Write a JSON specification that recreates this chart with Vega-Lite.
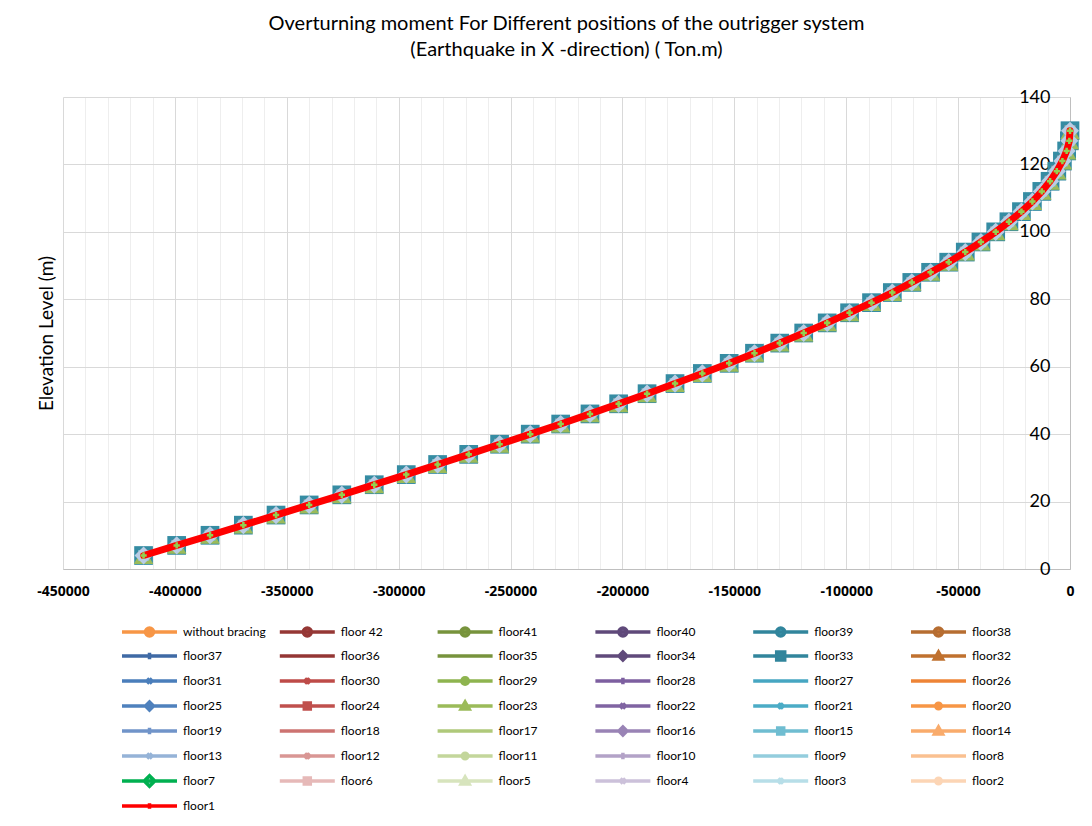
{
  "$schema": "https://vega.github.io/schema/vega-lite/v6.json",
  "width": 1007,
  "height": 472,
  "autosize": {"type": "none"},
  "padding": {"left": 63, "top": 97, "right": 22, "bottom": 257},
  "background": "white",
  "config": {"font": "Lato", "view": {"stroke": null}, "point": {"opacity": 1}, "line": {"opacity": 1}},
  "title": {
    "text": ["Overturning moment For Different positions of the outrigger system", "(Earthquake in X -direction) ( Ton.m)"],
    "font": "Lato", "fontSize": 20, "fontWeight": "normal", "color": "#000000",
    "lineHeight": 26, "anchor": "middle", "frame": "group", "offset": 28
  },
  "data": {
    "values": [
      {"e": 4, "m": -414000}, {"e": 7, "m": -399200}, {"e": 10, "m": -384300}, {"e": 13, "m": -369400},
      {"e": 16, "m": -354800}, {"e": 19, "m": -340000}, {"e": 22, "m": -325400}, {"e": 25, "m": -310900},
      {"e": 28, "m": -296600}, {"e": 31, "m": -282600}, {"e": 34, "m": -268700}, {"e": 37, "m": -254900},
      {"e": 40, "m": -241200}, {"e": 43, "m": -227600}, {"e": 46, "m": -214500}, {"e": 49, "m": -201700},
      {"e": 52, "m": -189000}, {"e": 55, "m": -176500}, {"e": 58, "m": -164300}, {"e": 61, "m": -152300},
      {"e": 64, "m": -141000}, {"e": 67, "m": -129700}, {"e": 70, "m": -119000}, {"e": 73, "m": -108500},
      {"e": 76, "m": -98500}, {"e": 79, "m": -88700}, {"e": 82, "m": -79400}, {"e": 85, "m": -70700},
      {"e": 88, "m": -62300}, {"e": 91, "m": -54200}, {"e": 94, "m": -46800}, {"e": 97, "m": -39800},
      {"e": 100, "m": -33200}, {"e": 103, "m": -27300}, {"e": 106, "m": -21700}, {"e": 109, "m": -16800},
      {"e": 112, "m": -12600}, {"e": 115, "m": -8900}, {"e": 118, "m": -5900}, {"e": 121, "m": -3400},
      {"e": 124, "m": -1500}, {"e": 127, "m": -300}, {"e": 130, "m": 0}
    ]
  },
  "encoding": {
    "x": {
      "field": "m", "type": "quantitative",
      "scale": {"domain": [-450000, 0], "nice": false, "zero": false},
      "axis": {
        "title": null,
        "values": [-450000,-440000,-430000,-420000,-410000,-400000,-390000,-380000,-370000,-360000,-350000,-340000,-330000,-320000,-310000,-300000,-290000,-280000,-270000,-260000,-250000,-240000,-230000,-220000,-210000,-200000,-190000,-180000,-170000,-160000,-150000,-140000,-130000,-120000,-110000,-100000,-90000,-80000,-70000,-60000,-50000,-40000,-30000,-20000,-10000,0],
        "labelExpr": "datum.value % 50000 === 0 ? '' + datum.value : ''",
        "labelFont": "Open Sans", "labelFontWeight": "bold", "labelFontSize": 14, "labelColor": "#000000",
        "labelPadding": 15, "labelFlush": false, "labelOverlap": false, "ticks": false,
        "domainColor": "#BFBFBF", "domainWidth": 1,
        "gridColor": {"condition": {"test": "datum.value % 50000 === 0", "value": "#D9D9D9"}, "value": "#EEEEEE"},
        "gridWidth": 1
      }
    },
    "y": {
      "field": "e", "type": "quantitative",
      "scale": {"domain": [0, 140], "nice": false},
      "axis": {
        "orient": "right", "values": [0, 20, 40, 60, 80, 100, 120, 140],
        "labelFont": "Lato", "labelFontSize": 18, "labelColor": "#000000", "labelAlign": "right",
        "labelPadding": -20, "labelFlush": false, "ticks": false,
        "domainColor": "#BFBFBF", "gridColor": "#D9D9D9",
        "title": "Elevation Level (m)", "titleFont": "Lato", "titleFontSize": 19, "titleFontWeight": "normal",
        "titleColor": "#000000", "titleAngle": 270, "titleX": -1024, "titleY": 236,
        "titleAlign": "center", "titleBaseline": "middle"
      }
    }
  },
  "layer": [
    {
      "transform": [{"filter": "false"}],
      "mark": {"type": "point", "filled": true, "opacity": 1},
      "encoding": {
        "shape": {
          "datum": "floor1",
          "scale": {
            "domain": ["without bracing","floor 42","floor41","floor40","floor39","floor38","floor37","floor36","floor35","floor34","floor33","floor32","floor31","floor30","floor29","floor28","floor27","floor26","floor25","floor24","floor23","floor22","floor21","floor20","floor19","floor18","floor17","floor16","floor15","floor14","floor13","floor12","floor11","floor10","floor9","floor8","floor7","floor6","floor5","floor4","floor3","floor2","floor1"],
            "range": [
              "M-5.5,0H5.5M-0.8,0A0.8,0.8 0 1,1 0.8,0A0.8,0.8 0 1,1 -0.8,0Z",
              "M-5.5,0H5.5M-0.8,0A0.8,0.8 0 1,1 0.8,0A0.8,0.8 0 1,1 -0.8,0Z",
              "M-5.5,0H5.5M-0.8,0A0.8,0.8 0 1,1 0.8,0A0.8,0.8 0 1,1 -0.8,0Z",
              "M-5.5,0H5.5M-0.8,0A0.8,0.8 0 1,1 0.8,0A0.8,0.8 0 1,1 -0.8,0Z",
              "M-5.5,0H5.5M-0.8,0A0.8,0.8 0 1,1 0.8,0A0.8,0.8 0 1,1 -0.8,0Z",
              "M-5.5,0H5.5M-0.8,0A0.8,0.8 0 1,1 0.8,0A0.8,0.8 0 1,1 -0.8,0Z",
              "M-5.5,0H5.5M0,-0.66V0.66",
              "M-5.5,0H5.5",
              "M-5.5,0H5.5",
              "M-5.5,0H5.5M0,-0.8L0.8,0L0,0.8L-0.8,0Z",
              "M-5.5,0H5.5M-0.8,-0.8H0.8V0.8H-0.8Z",
              "M-5.5,0H5.5M0,-0.8L0.8,0.6H-0.8Z",
              "M-5.5,0H5.5M-0.5,-0.5L0.5,0.5M0.5,-0.5L-0.5,0.5",
              "M-5.5,0H5.5M-0.5,-0.5L0.5,0.5M0.5,-0.5L-0.5,0.5M0,-0.66V0.66",
              "M-5.5,0H5.5M-0.66,0A0.66,0.66 0 1,1 0.66,0A0.66,0.66 0 1,1 -0.66,0Z",
              "M-5.5,0H5.5M0,-0.66V0.66",
              "M-5.5,0H5.5",
              "M-5.5,0H5.5",
              "M-5.5,0H5.5M0,-0.8L0.8,0L0,0.8L-0.8,0Z",
              "M-5.5,0H5.5M-0.6,-0.6H0.6V0.6H-0.6Z",
              "M-5.5,0H5.5M0,-0.8L0.8,0.6H-0.8Z",
              "M-5.5,0H5.5M-0.5,-0.5L0.5,0.5M0.5,-0.5L-0.5,0.5",
              "M-5.5,0H5.5M-0.5,-0.5L0.5,0.5M0.5,-0.5L-0.5,0.5M0,-0.66V0.66",
              "M-5.5,0H5.5M-0.55,0A0.55,0.55 0 1,1 0.55,0A0.55,0.55 0 1,1 -0.55,0Z",
              "M-5.5,0H5.5M0,-0.66V0.66",
              "M-5.5,0H5.5",
              "M-5.5,0H5.5",
              "M-5.5,0H5.5M0,-0.8L0.8,0L0,0.8L-0.8,0Z",
              "M-5.5,0H5.5M-0.6,-0.6H0.6V0.6H-0.6Z",
              "M-5.5,0H5.5M0,-0.8L0.8,0.6H-0.8Z",
              "M-5.5,0H5.5M-0.5,-0.5L0.5,0.5M0.5,-0.5L-0.5,0.5",
              "M-5.5,0H5.5M-0.5,-0.5L0.5,0.5M0.5,-0.5L-0.5,0.5M0,-0.66V0.66",
              "M-5.5,0H5.5M-0.55,0A0.55,0.55 0 1,1 0.55,0A0.55,0.55 0 1,1 -0.55,0Z",
              "M-5.5,0H5.5M0,-0.66V0.66",
              "M-5.5,0H5.5",
              "M-5.5,0H5.5",
              "M-5.5,0H5.5M0,-1.05L1.05,0L0,1.05L-1.05,0Z",
              "M-5.5,0H5.5M-0.6,-0.6H0.6V0.6H-0.6Z",
              "M-5.5,0H5.5M0,-0.8L0.8,0.6H-0.8Z",
              "M-5.5,0H5.5M-0.5,-0.5L0.5,0.5M0.5,-0.5L-0.5,0.5",
              "M-5.5,0H5.5M-0.5,-0.5L0.5,0.5M0.5,-0.5L-0.5,0.5M0,-0.66V0.66",
              "M-5.5,0H5.5M-0.55,0A0.55,0.55 0 1,1 0.55,0A0.55,0.55 0 1,1 -0.55,0Z",
              "M-5.5,0H5.5M0,-0.55V0.55"
            ]
          },
          "legend": {
            "title": null, "orient": "none", "legendX": 59, "legendY": 527,
            "direction": "horizontal", "columns": 6, "gridAlign": "all", "symbolLimit": 100,
            "columnPadding": 6.8, "rowPadding": -1, "symbolSize": 100, "symbolStrokeWidth": 3.5,
            "symbolOffset": 20.5, "labelOffset": 26.5, "labelFont": "Lato", "labelFontSize": 12,
            "labelColor": "#000000", "labelLimit": 200, "padding": 0,
            "encode": {"symbols": {"update": {"opacity": {"value": 1}, "strokeWidth": {"value": 3.5}}}}
          }
        },
        "fill": {
          "datum": "floor1",
          "scale": {
            "domain": ["without bracing","floor 42","floor41","floor40","floor39","floor38","floor37","floor36","floor35","floor34","floor33","floor32","floor31","floor30","floor29","floor28","floor27","floor26","floor25","floor24","floor23","floor22","floor21","floor20","floor19","floor18","floor17","floor16","floor15","floor14","floor13","floor12","floor11","floor10","floor9","floor8","floor7","floor6","floor5","floor4","floor3","floor2","floor1"],
            "range": ["#F79646","#C0504D","#9BBB59","#8064A2","#4BACC6","#F79646","#3F6AA5","#943634","#77933C","#604A7B","#358CA3","#C0712F","#4A7EBB","#BE4B48","#8EB44F","#7D5FA0","#46A6C2","#EE8436","#4F81BD","#C0504D","#9BBB59","#8064A2","#4BACC6","#F79646","#7094C9","#CD7371","#AFC97A","#9983B5","#6FBDD1","#F9AB6B","#95B3D7","#D99694","#C3D69B","#B3A2C7","#93CDDD","#FAC090","#B9CDE5","#E6B9B8","#D7E4BD","#CCC1DA","#B7DEE8","#FCD5B5","#92D050"]
          }
        },
        "stroke": {
          "datum": "floor1",
          "scale": {
            "domain": ["without bracing","floor 42","floor41","floor40","floor39","floor38","floor37","floor36","floor35","floor34","floor33","floor32","floor31","floor30","floor29","floor28","floor27","floor26","floor25","floor24","floor23","floor22","floor21","floor20","floor19","floor18","floor17","floor16","floor15","floor14","floor13","floor12","floor11","floor10","floor9","floor8","floor7","floor6","floor5","floor4","floor3","floor2","floor1"],
            "range": ["#F79646","#953735","#77933C","#5F497A","#31859C","#B66D31","#3F6AA5","#943634","#77933C","#604A7B","#31859C","#C0712F","#4A7EBB","#BE4B48","#8EB44F","#7D5FA0","#46A6C2","#EE8436","#4F81BD","#C0504D","#9BBB59","#8064A2","#4BACC6","#F79646","#7094C9","#CD7371","#AFC97A","#9983B5","#6FBDD1","#F9AB6B","#95B3D7","#D99694","#C3D69B","#B3A2C7","#93CDDD","#FAC090","#00B050","#E6B9B8","#D7E4BD","#CCC1DA","#B7DEE8","#FCD5B5","#FF0000"]
          }
        }
      }
    },
    {"mark": {"type": "line", "strokeWidth": 4, "strokeCap": "round"}, "encoding": {"stroke": {"datum": "without bracing", "legend": null}}},
    {"mark": {"type": "point", "filled": true, "shape": "circle", "size": 60}, "encoding": {"fill": {"datum": "without bracing", "legend": null}}},
    {"mark": {"type": "line", "strokeWidth": 4, "strokeCap": "round"}, "encoding": {"stroke": {"datum": "floor 42", "legend": null}}},
    {"mark": {"type": "point", "filled": true, "shape": "circle", "size": 60}, "encoding": {"fill": {"datum": "floor 42", "legend": null}}},
    {"mark": {"type": "line", "strokeWidth": 4, "strokeCap": "round"}, "encoding": {"stroke": {"datum": "floor41", "legend": null}}},
    {"mark": {"type": "point", "filled": true, "shape": "circle", "size": 60}, "encoding": {"fill": {"datum": "floor41", "legend": null}}},
    {"mark": {"type": "line", "strokeWidth": 4, "strokeCap": "round"}, "encoding": {"stroke": {"datum": "floor40", "legend": null}}},
    {"mark": {"type": "point", "filled": true, "shape": "circle", "size": 60}, "encoding": {"fill": {"datum": "floor40", "legend": null}}},
    {"mark": {"type": "line", "strokeWidth": 4, "strokeCap": "round"}, "encoding": {"stroke": {"datum": "floor39", "legend": null}}},
    {"mark": {"type": "point", "filled": true, "shape": "circle", "size": 60}, "encoding": {"fill": {"datum": "floor39", "legend": null}}},
    {"mark": {"type": "line", "strokeWidth": 4, "strokeCap": "round"}, "encoding": {"stroke": {"datum": "floor38", "legend": null}}},
    {"mark": {"type": "point", "filled": true, "shape": "circle", "size": 60}, "encoding": {"fill": {"datum": "floor38", "legend": null}}},
    {"mark": {"type": "line", "strokeWidth": 4, "strokeCap": "round"}, "encoding": {"stroke": {"datum": "floor37", "legend": null}}},
    {"mark": {"type": "point", "filled": true, "shape": "cross", "size": 40}, "encoding": {"fill": {"datum": "floor37", "legend": null}}},
    {"mark": {"type": "line", "strokeWidth": 4, "strokeCap": "round"}, "encoding": {"stroke": {"datum": "floor36", "legend": null}}},
    {"mark": {"type": "line", "strokeWidth": 4, "strokeCap": "round"}, "encoding": {"stroke": {"datum": "floor35", "legend": null}}},
    {"mark": {"type": "line", "strokeWidth": 4, "strokeCap": "round"}, "encoding": {"stroke": {"datum": "floor34", "legend": null}}},
    {"mark": {"type": "point", "filled": true, "shape": "diamond", "size": 80}, "encoding": {"fill": {"datum": "floor34", "legend": null}}},
    {"mark": {"type": "line", "strokeWidth": 4, "strokeCap": "round"}, "encoding": {"stroke": {"datum": "floor33", "legend": null}}},
    {"mark": {"type": "point", "filled": true, "shape": "square", "size": 350}, "encoding": {"fill": {"datum": "floor33", "legend": null}}},
    {"mark": {"type": "line", "strokeWidth": 4, "strokeCap": "round"}, "encoding": {"stroke": {"datum": "floor32", "legend": null}}},
    {"mark": {"type": "point", "filled": true, "shape": "triangle-up", "size": 120}, "encoding": {"fill": {"datum": "floor32", "legend": null}}},
    {"mark": {"type": "line", "strokeWidth": 4, "strokeCap": "round"}, "encoding": {"stroke": {"datum": "floor31", "legend": null}}},
    {"mark": {"type": "point", "filled": true, "shape": "cross", "angle": 45, "size": 60}, "encoding": {"fill": {"datum": "floor31", "legend": null}}},
    {"mark": {"type": "line", "strokeWidth": 4, "strokeCap": "round"}, "encoding": {"stroke": {"datum": "floor30", "legend": null}}},
    {"mark": {"type": "point", "filled": true, "shape": "cross", "angle": 45, "size": 160}, "encoding": {"fill": {"datum": "floor30", "legend": null}}},
    {"mark": {"type": "line", "strokeWidth": 4, "strokeCap": "round"}, "encoding": {"stroke": {"datum": "floor29", "legend": null}}},
    {"mark": {"type": "point", "filled": true, "shape": "circle", "size": 60}, "encoding": {"fill": {"datum": "floor29", "legend": null}}},
    {"mark": {"type": "line", "strokeWidth": 4, "strokeCap": "round"}, "encoding": {"stroke": {"datum": "floor28", "legend": null}}},
    {"mark": {"type": "point", "filled": true, "shape": "cross", "size": 40}, "encoding": {"fill": {"datum": "floor28", "legend": null}}},
    {"mark": {"type": "line", "strokeWidth": 4, "strokeCap": "round"}, "encoding": {"stroke": {"datum": "floor27", "legend": null}}},
    {"mark": {"type": "line", "strokeWidth": 4, "strokeCap": "round"}, "encoding": {"stroke": {"datum": "floor26", "legend": null}}},
    {"mark": {"type": "line", "strokeWidth": 4, "strokeCap": "round"}, "encoding": {"stroke": {"datum": "floor25", "legend": null}}},
    {"mark": {"type": "point", "filled": true, "shape": "diamond", "size": 80}, "encoding": {"fill": {"datum": "floor25", "legend": null}}},
    {"mark": {"type": "line", "strokeWidth": 4, "strokeCap": "round"}, "encoding": {"stroke": {"datum": "floor24", "legend": null}}},
    {"mark": {"type": "point", "filled": true, "shape": "square", "size": 120}, "encoding": {"fill": {"datum": "floor24", "legend": null}}},
    {"mark": {"type": "line", "strokeWidth": 4, "strokeCap": "round"}, "encoding": {"stroke": {"datum": "floor23", "legend": null}}},
    {"mark": {"type": "point", "filled": true, "shape": "triangle-up", "size": 380}, "encoding": {"fill": {"datum": "floor23", "legend": null}}},
    {"mark": {"type": "line", "strokeWidth": 4, "strokeCap": "round"}, "encoding": {"stroke": {"datum": "floor22", "legend": null}}},
    {"mark": {"type": "point", "filled": true, "shape": "cross", "angle": 45, "size": 60}, "encoding": {"fill": {"datum": "floor22", "legend": null}}},
    {"mark": {"type": "line", "strokeWidth": 4, "strokeCap": "round"}, "encoding": {"stroke": {"datum": "floor21", "legend": null}}},
    {"mark": {"type": "point", "filled": true, "shape": "cross", "angle": 45, "size": 60}, "encoding": {"fill": {"datum": "floor21", "legend": null}}},
    {"mark": {"type": "line", "strokeWidth": 4, "strokeCap": "round"}, "encoding": {"stroke": {"datum": "floor20", "legend": null}}},
    {"mark": {"type": "point", "filled": true, "shape": "circle", "size": 50}, "encoding": {"fill": {"datum": "floor20", "legend": null}}},
    {"mark": {"type": "line", "strokeWidth": 4, "strokeCap": "round"}, "encoding": {"stroke": {"datum": "floor19", "legend": null}}},
    {"mark": {"type": "point", "filled": true, "shape": "cross", "size": 40}, "encoding": {"fill": {"datum": "floor19", "legend": null}}},
    {"mark": {"type": "line", "strokeWidth": 4, "strokeCap": "round"}, "encoding": {"stroke": {"datum": "floor18", "legend": null}}},
    {"mark": {"type": "line", "strokeWidth": 4, "strokeCap": "round"}, "encoding": {"stroke": {"datum": "floor17", "legend": null}}},
    {"mark": {"type": "line", "strokeWidth": 4, "strokeCap": "round"}, "encoding": {"stroke": {"datum": "floor16", "legend": null}}},
    {"mark": {"type": "point", "filled": true, "shape": "diamond", "size": 80}, "encoding": {"fill": {"datum": "floor16", "legend": null}}},
    {"mark": {"type": "line", "strokeWidth": 4, "strokeCap": "round"}, "encoding": {"stroke": {"datum": "floor15", "legend": null}}},
    {"mark": {"type": "point", "filled": true, "shape": "square", "size": 120}, "encoding": {"fill": {"datum": "floor15", "legend": null}}},
    {"mark": {"type": "line", "strokeWidth": 4, "strokeCap": "round"}, "encoding": {"stroke": {"datum": "floor14", "legend": null}}},
    {"mark": {"type": "point", "filled": true, "shape": "triangle-up", "size": 120}, "encoding": {"fill": {"datum": "floor14", "legend": null}}},
    {"mark": {"type": "line", "strokeWidth": 4, "strokeCap": "round"}, "encoding": {"stroke": {"datum": "floor13", "legend": null}}},
    {"mark": {"type": "point", "filled": true, "shape": "cross", "angle": 45, "size": 60}, "encoding": {"fill": {"datum": "floor13", "legend": null}}},
    {"mark": {"type": "line", "strokeWidth": 4, "strokeCap": "round"}, "encoding": {"stroke": {"datum": "floor12", "legend": null}}},
    {"mark": {"type": "point", "filled": true, "shape": "cross", "angle": 45, "size": 60}, "encoding": {"fill": {"datum": "floor12", "legend": null}}},
    {"mark": {"type": "line", "strokeWidth": 4, "strokeCap": "round"}, "encoding": {"stroke": {"datum": "floor11", "legend": null}}},
    {"mark": {"type": "point", "filled": true, "shape": "circle", "size": 50}, "encoding": {"fill": {"datum": "floor11", "legend": null}}},
    {"mark": {"type": "line", "strokeWidth": 4, "strokeCap": "round"}, "encoding": {"stroke": {"datum": "floor10", "legend": null}}},
    {"mark": {"type": "point", "filled": true, "shape": "cross", "size": 40}, "encoding": {"fill": {"datum": "floor10", "legend": null}}},
    {"mark": {"type": "line", "strokeWidth": 4, "strokeCap": "round"}, "encoding": {"stroke": {"datum": "floor9", "legend": null}}},
    {"mark": {"type": "line", "strokeWidth": 4, "strokeCap": "round"}, "encoding": {"stroke": {"datum": "floor8", "legend": null}}},
    {"mark": {"type": "line", "strokeWidth": 4, "strokeCap": "round"}, "encoding": {"stroke": {"datum": "floor7", "legend": null}}},
    {"mark": {"type": "point", "filled": true, "shape": "diamond", "size": 330}, "encoding": {"fill": {"datum": "floor7", "legend": null}}},
    {"mark": {"type": "line", "strokeWidth": 4, "strokeCap": "round"}, "encoding": {"stroke": {"datum": "floor6", "legend": null}}},
    {"mark": {"type": "point", "filled": true, "shape": "square", "size": 35}, "encoding": {"fill": {"datum": "floor6", "legend": null}}},
    {"mark": {"type": "line", "strokeWidth": 4, "strokeCap": "round"}, "encoding": {"stroke": {"datum": "floor5", "legend": null}}},
    {"mark": {"type": "point", "filled": true, "shape": "triangle-up", "size": 35}, "encoding": {"fill": {"datum": "floor5", "legend": null}}},
    {"mark": {"type": "line", "strokeWidth": 4, "strokeCap": "round"}, "encoding": {"stroke": {"datum": "floor4", "legend": null}}},
    {"mark": {"type": "point", "filled": true, "shape": "cross", "angle": 45, "size": 35}, "encoding": {"fill": {"datum": "floor4", "legend": null}}},
    {"mark": {"type": "line", "strokeWidth": 4, "strokeCap": "round"}, "encoding": {"stroke": {"datum": "floor3", "legend": null}}},
    {"mark": {"type": "point", "filled": true, "shape": "cross", "angle": 45, "size": 35}, "encoding": {"fill": {"datum": "floor3", "legend": null}}},
    {"mark": {"type": "line", "strokeWidth": 4, "strokeCap": "round"}, "encoding": {"stroke": {"datum": "floor2", "legend": null}}},
    {"mark": {"type": "point", "filled": true, "shape": "circle", "size": 35}, "encoding": {"fill": {"datum": "floor2", "legend": null}}},
    {"mark": {"type": "line", "strokeWidth": 7, "strokeCap": "round"}, "encoding": {"stroke": {"datum": "floor1", "legend": null}}},
    {"mark": {"type": "point", "filled": true, "shape": "cross", "size": 40}, "encoding": {"fill": {"datum": "floor1", "legend": null}}}
  ]
}
